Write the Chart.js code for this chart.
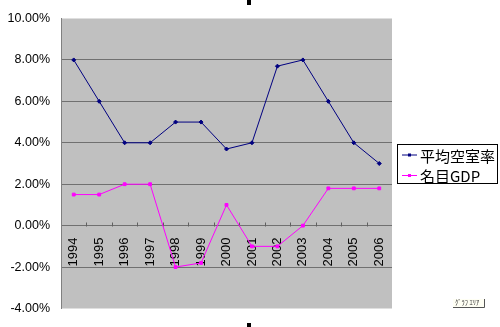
<!DOCTYPE html>
<html>
<head>
<meta charset="utf-8">
<script src="https://cdn.jsdelivr.net/npm/chart.js@4/dist/chart.umd.min.js"></script>
<style>
  body { margin: 0; background: #fff; }
  canvas { display: block; }
</style>
</head>
<body>
<canvas id="myChart" width="500" height="327"></canvas>
<script>
// datos
const years = ["1994", "1995", "1996", "1997", "1998", "1999", "2000", "2001", "2002", "2003", "2004", "2005", "2006"];
const vacancy = [8.0, 6.0, 4.0, 4.0, 5.0, 5.0, 3.7, 4.0, 7.7, 8.0, 6.0, 4.0, 3.0];
const gdp = [1.5, 1.5, 2.0, 2.0, -2.0, -1.8, 1.0, -1.0, -1.0, 0.0, 1.8, 1.8, 1.8];
const seriesNames = ["平均空室率", "名目GDP"];
const yMin = -4, yMax = 10, yStep = 2;

// fondo gris del area de trazado + marcas del eje x hacia arriba
const plotArea = {
  id: "plotArea",
  beforeDraw(chart) {
    const { ctx, chartArea: a } = chart;
    ctx.save();
    ctx.fillStyle = "#c0c0c0";
    ctx.fillRect(a.left, a.top, a.right - a.left, a.bottom - a.top);
    ctx.restore();
  },
  beforeDatasetsDraw(chart) {
    const { ctx, scales } = chart;
    const x = scales.x, y = scales.y;
    const y0 = Math.round(y.getPixelForValue(0)) + 0.5;
    const half = (x.getPixelForValue(1) - x.getPixelForValue(0)) / 2;
    ctx.save();
    ctx.strokeStyle = "#606060";
    ctx.lineWidth = 1;
    ctx.beginPath();
    for (let i = 0; i < years.length - 1; i++) {
      const px = Math.round(x.getPixelForValue(i) + half) + 0.5;
      ctx.moveTo(px, y0);
      ctx.lineTo(px, y0 - 4);
    }
    ctx.stroke();
    ctx.restore();
  }
};

// leyenda con borde, como en excel
const boxLegend = {
  id: "boxLegend",
  afterDraw(chart) {
    const { ctx } = chart;
    ctx.save();
    ctx.fillStyle = "#fff";
    ctx.fillRect(397, 144, 101, 40);
    ctx.strokeStyle = "#000";
    ctx.lineWidth = 1;
    ctx.strokeRect(397.5, 144.5, 100, 39);
    chart.data.datasets.forEach((ds, i) => {
      const cy = 155 + i * 20.5;
      ctx.strokeStyle = ds.borderColor;
      ctx.beginPath();
      ctx.moveTo(402, cy);
      ctx.lineTo(417, cy);
      ctx.stroke();
      ctx.fillStyle = ds.borderColor;
      ctx.fillRect(408, cy - 1.5, 3, 3);
      ctx.fillStyle = "#000";
      ctx.font = "15px 'Noto Sans CJK JP'";
      ctx.textBaseline = "middle";
      ctx.fillText(ds.label, 420, cy + 1);
    });

    // etiqueta "グラフ エリア" y marcas de seleccion
    ctx.fillStyle = "#fffff4";
    ctx.fillRect(453, 299, 31, 8);
    ctx.strokeStyle = "#555";
    ctx.beginPath();
    ctx.moveTo(484.5, 299);
    ctx.lineTo(484.5, 307.5);
    ctx.lineTo(453, 307.5);
    ctx.stroke();
    ctx.fillStyle = "#333";
    ctx.font = "6.5px 'Noto Sans CJK JP'";
    ctx.textBaseline = "middle";
    ctx.fillText("ｸﾞﾗﾌ ｴﾘｱ", 455, 303);
    ctx.fillStyle = "#000";
    ctx.fillRect(247, 0, 4, 5);
    ctx.fillRect(247, 323, 4, 4);
    ctx.restore();
  }
};

const ctx = document.getElementById("myChart").getContext("2d");

const chart = new Chart(ctx, {
  type: "line",
  data: {
    labels: years,
    datasets: [
      {
        label: seriesNames[0],
        data: vacancy,
        borderColor: "#000080",
        backgroundColor: "#000080",
        borderWidth: 1,
        pointStyle: "rectRot",
        pointRadius: 2,
        pointHoverRadius: 2
      },
      {
        label: seriesNames[1],
        data: gdp,
        borderColor: "#ff00ff",
        backgroundColor: "#ff00ff",
        borderWidth: 1,
        pointStyle: "rect",
        pointRadius: 2,
        pointHoverRadius: 2
      }
    ]
  },
  options: {
    responsive: false,
    animation: false,
    layout: { padding: { top: 18, bottom: 17, left: 0, right: 108 } },
    plugins: {
      legend: { display: false },
      tooltip: { enabled: false }
    },
    scales: {
      x: {
        position: { y: 0 },
        offset: true,
        afterFit: (s) => { s.height = 0; },
        grid: { display: false, drawTicks: false },
        border: { display: false },
        ticks: {
          autoSkip: false,
          minRotation: 90,
          maxRotation: 90,
          padding: 12,
          color: "#000",
          font: { family: "'Liberation Sans', Arial", size: 13 }
        }
      },
      y: {
        min: yMin,
        max: yMax,
        afterFit: (s) => { s.width = 61; },
        grid: {
          drawTicks: false,
          color: (c) => (c.tick && (c.tick.value === yMin || c.tick.value === yMax)) ? "rgba(0,0,0,0)" : "#707070"
        },
        border: { color: "#808080" },
        ticks: {
          stepSize: yStep,
          padding: 11,
          color: "#000",
          font: { family: "'Liberation Sans', Arial", size: 12.5 },
          callback: (v) => v.toFixed(2) + "%"
        }
      }
    }
  },
  plugins: [plotArea, boxLegend]
});
</script>
</body>
</html>
